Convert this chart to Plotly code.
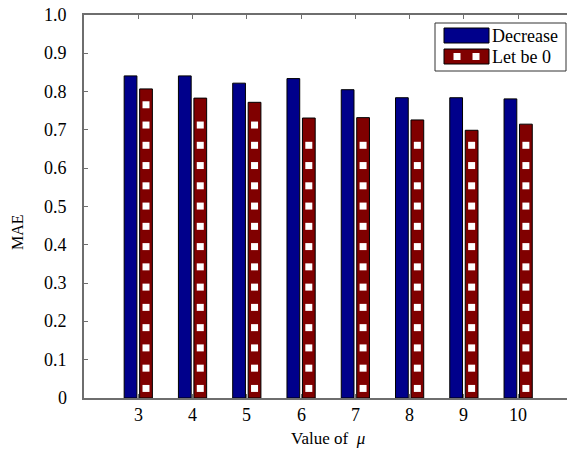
import numpy as np
import plotly.graph_objects as go

# MAE for each value of mu under the two strategies
mu_values = [3, 4, 5, 6, 7, 8, 9, 10]
mae_decrease = [0.841, 0.841, 0.822, 0.834, 0.805, 0.784, 0.784, 0.781]
mae_let_zero = [0.807, 0.783, 0.772, 0.731, 0.732, 0.726, 0.699, 0.715]
y_tick_vals = [0, 0.1, 0.2, 0.3, 0.4, 0.5, 0.6, 0.7, 0.8, 0.9, 1.0]
y_tick_text = ["0", "0.1", "0.2", "0.3", "0.4", "0.5", "0.6", "0.7", "0.8", "0.9", "1.0"]

NAVY = "#00008B"
MAROON = "#800000"
FONT = "Liberation Serif"

BAR_W = 0.235
DEC_OFF = -0.26
LET_OFF = 0.025
HATCH_STEP = 0.0529
HATCH_START = 0.025

fig = go.Figure()

fig.add_trace(go.Bar(
    x=mu_values, y=mae_decrease, name="Decrease",
    marker=dict(color=NAVY, line=dict(color="#000000", width=1)),
    width=BAR_W, offset=DEC_OFF, showlegend=False,
))
fig.add_trace(go.Bar(
    x=mu_values, y=mae_let_zero, name="Let be 0",
    marker=dict(color=MAROON, line=dict(color="#000000", width=1)),
    width=BAR_W, offset=LET_OFF, showlegend=False,
))

# white square hatching inside the "Let be 0" bars
hx, hy = [], []
for mu, v in zip(mu_values, mae_let_zero):
    ys = np.arange(HATCH_START, v - 0.03, HATCH_STEP)
    hx.extend([mu + LET_OFF + BAR_W / 2] * len(ys))
    hy.extend(ys.tolist())
fig.add_trace(go.Scatter(
    x=hx, y=hy, mode="markers",
    marker=dict(symbol="square", size=7, color="white", line=dict(width=0)),
    hoverinfo="skip", showlegend=False,
))

# legend box drawn by hand (paper coordinates)
W, H = 567, 452
L, R, T, B = 84, 0, 15, 54
pw, ph = W - L - R, H - T - B


def px_x(x):
    return (x - L) / pw


def px_y(y):
    return 1 - (y - T) / ph


shapes = [
    dict(type="rect", xref="paper", yref="paper",
         x0=px_x(435), x1=px_x(566), y0=px_y(71), y1=px_y(23),
         line=dict(color="#333333", width=1), fillcolor="white", layer="above"),
    dict(type="rect", xref="paper", yref="paper",
         x0=px_x(444), x1=px_x(489), y0=px_y(43), y1=px_y(28),
         line=dict(color="#000000", width=1), fillcolor=NAVY, layer="above"),
    dict(type="rect", xref="paper", yref="paper",
         x0=px_x(444), x1=px_x(489), y0=px_y(64), y1=px_y(49),
         line=dict(color="#000000", width=1), fillcolor=MAROON, layer="above"),
]
for cx in (457, 476):
    shapes.append(dict(type="rect", xref="paper", yref="paper",
                       x0=px_x(cx - 3.5), x1=px_x(cx + 3.5),
                       y0=px_y(60), y1=px_y(53),
                       line=dict(width=0), fillcolor="white", layer="above"))

annotations = [
    dict(text="Decrease", xref="paper", yref="paper", x=px_x(490), y=px_y(35.5),
         xanchor="left", yanchor="middle", showarrow=False,
         font=dict(family=FONT, size=18, color="black")),
    dict(text="Let be 0", xref="paper", yref="paper", x=px_x(490), y=px_y(57),
         xanchor="left", yanchor="middle", showarrow=False,
         font=dict(family=FONT, size=18, color="black")),
    dict(text="MAE", xref="paper", yref="paper", x=px_x(17), y=px_y(232),
         xanchor="center", yanchor="middle", textangle=-90, showarrow=False,
         font=dict(family=FONT, size=16, color="black")),
    dict(text="Value of  <i>μ</i>", xref="paper", yref="paper", x=px_x(328), y=px_y(438),
         xanchor="center", yanchor="middle", showarrow=False,
         font=dict(family=FONT, size=17, color="black")),
]

# tick labels placed as annotations so their font and position are explicit
for v, t in zip(y_tick_vals, y_tick_text):
    annotations.append(dict(text=t, xref="paper", yref="y", x=px_x(69), y=v,
                            xanchor="right", yanchor="middle", showarrow=False,
                            font=dict(family=FONT, size=18, color="black")))
for m in mu_values:
    annotations.append(dict(text=str(m), xref="x", yref="paper", x=m, y=px_y(415),
                            xanchor="center", yanchor="middle", showarrow=False,
                            font=dict(family=FONT, size=18, color="black")))

AX = "#6e6e6e"
fig.update_layout(
    width=W, height=H,
    margin=dict(l=L, r=R, t=T, b=B, pad=0),
    plot_bgcolor="white", paper_bgcolor="white",
    barmode="overlay",
    font=dict(family=FONT, size=18, color="black"),
    shapes=shapes, annotations=annotations,
    xaxis=dict(
        range=[2, 10.9], tickvals=mu_values, showticklabels=False,
        ticks="inside", ticklen=4, tickcolor=AX, tickwidth=1,
        showline=True, linecolor=AX, linewidth=1.5, mirror="ticks",
        showgrid=False, zeroline=False,
    ),
    yaxis=dict(
        range=[0, 1.0], tickvals=y_tick_vals, showticklabels=False,
        ticks="inside", ticklen=4, tickcolor=AX, tickwidth=1,
        showline=True, linecolor=AX, linewidth=1.5, mirror=False,
        showgrid=False, zeroline=False,
    ),
)

fig.write_html("out.html")
